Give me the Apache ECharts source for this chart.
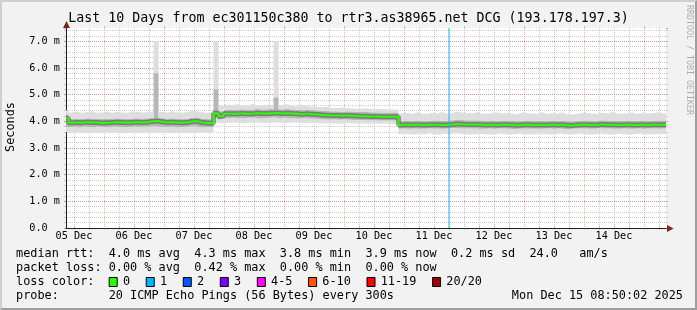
<!DOCTYPE html>
<html><head><meta charset="utf-8">
<script src="https://cdn.jsdelivr.net/npm/echarts@6/dist/echarts.min.js"></script>
<style>
html,body{margin:0;padding:0;background:#f2f2f2;}
#wrap{position:relative;width:697px;height:310px;overflow:hidden;}
#chart{width:697px;height:310px;}
#frame{position:absolute;left:0;top:0;width:697px;height:310px;box-sizing:border-box;border-top:2px solid #cfcfcf;border-left:2px solid #cfcfcf;border-right:2px solid #9e9e9e;border-bottom:2px solid #9e9e9e;pointer-events:none;}
</style></head>
<body><div id="wrap"><div id="chart"></div><div id="frame"></div></div>
<script>
// ---------------- data ----------------
const titleText = 'Last 10 Days from ec301150c380 to rtr3.as38965.net DCG (193.178.197.3)';
const yAxisTitle = 'Seconds';
const startUTC = Date.UTC(2025, 11, 5, 8, 50, 0);   // Dec 5 08:50
const spanHours = 240;
const stepHours = 2;
const dayLabels = ['05 Dec','06 Dec','07 Dec','08 Dec','09 Dec','10 Dec','11 Dec','12 Dec','13 Dec','14 Dec'];
const yMax = 7.5;

// median rtt (ms) every 2 h
const median = [
 4.12,3.95,3.96,3.95,3.97,3.96,3.96,3.94,3.95,3.96,
 3.97,3.96,3.95,3.96,3.97,3.96,3.97,3.99,4.01,3.98,
 3.96,3.97,3.96,3.95,3.96,3.99,4.00,3.96,3.94,3.93,
 4.30,4.19,4.28,4.28,4.28,4.29,4.28,4.28,4.30,4.29,
 4.29,4.30,4.31,4.29,4.30,4.29,4.28,4.27,4.28,4.27,
 4.26,4.24,4.23,4.22,4.22,4.21,4.22,4.21,4.20,4.19,
 4.19,4.18,4.18,4.17,4.17,4.17,4.17,
 3.86,3.87,3.86,3.87,3.86,3.86,3.87,3.87,3.86,3.86,
 3.88,3.90,3.89,3.88,3.88,3.88,3.87,3.86,3.87,3.86,
 3.87,3.87,3.86,3.85,3.86,3.87,3.86,3.86,3.86,3.86,
 3.87,3.86,3.87,3.85,3.84,3.86,3.87,3.87,3.86,3.86,
 3.88,3.87,3.87,3.86,3.86,3.87,3.86,3.86,3.87,3.86,
 3.87,3.87,3.87,3.87
];
// smoke: lowest ping
const smokeMin = [
 3.60,3.56,3.55,3.57,3.56,3.55,3.57,3.56,3.55,3.56,
 3.57,3.56,3.55,3.56,3.55,3.57,3.56,3.55,3.56,3.57,
 3.56,3.55,3.56,3.57,3.55,3.56,3.55,3.56,3.57,3.58,
 3.96,3.95,3.94,3.95,3.96,3.95,3.94,3.95,3.96,3.95,
 3.94,3.95,3.96,3.95,3.94,3.95,3.96,3.95,3.94,3.95,
 3.94,3.93,3.92,3.93,3.92,3.91,3.92,3.93,3.92,3.91,
 3.92,3.91,3.92,3.91,3.92,3.91,3.90,
 3.52,3.53,3.52,3.51,3.53,3.52,3.54,3.52,3.51,3.53,
 3.52,3.54,3.53,3.52,3.51,3.52,3.53,3.52,3.51,3.52,
 3.53,3.52,3.51,3.52,3.53,3.52,3.51,3.52,3.53,3.52,
 3.51,3.52,3.53,3.52,3.51,3.52,3.53,3.52,3.51,3.52,
 3.53,3.52,3.51,3.52,3.53,3.52,3.51,3.52,3.53,3.52,
 3.51,3.52,3.53,3.52
];
// smoke: lower edge of the dense part
const smokeLo = [
 3.82,3.79,3.80,3.78,3.80,3.79,3.78,3.80,3.79,3.78,
 3.80,3.79,3.78,3.79,3.80,3.79,3.80,3.81,3.82,3.80,
 3.79,3.80,3.79,3.78,3.79,3.81,3.82,3.79,3.78,3.78,
 4.13,4.08,4.12,4.12,4.13,4.12,4.12,4.13,4.13,4.12,
 4.12,4.13,4.14,4.12,4.13,4.12,4.12,4.11,4.12,4.11,
 4.10,4.09,4.08,4.07,4.07,4.06,4.07,4.06,4.05,4.05,
 4.05,4.04,4.04,4.03,4.03,4.03,4.03,
 3.72,3.73,3.72,3.73,3.72,3.72,3.73,3.73,3.72,3.72,
 3.74,3.75,3.74,3.73,3.73,3.73,3.72,3.72,3.73,3.72,
 3.73,3.73,3.72,3.71,3.72,3.73,3.72,3.72,3.72,3.72,
 3.73,3.72,3.73,3.71,3.70,3.72,3.73,3.73,3.72,3.72,
 3.74,3.73,3.73,3.72,3.72,3.73,3.72,3.72,3.73,3.72,
 3.73,3.73,3.73,3.73
];
// smoke: upper edge of the dense part
const smokeHi = [
 4.25,4.10,4.11,4.10,4.12,4.11,4.11,4.09,4.10,4.11,
 4.12,4.11,4.10,4.11,4.12,4.11,4.12,4.14,5.80,4.13,
 4.11,4.12,4.11,4.10,4.11,4.14,4.15,4.11,4.09,4.08,
 5.20,4.38,4.44,4.44,4.44,4.45,4.44,4.44,4.46,4.45,
 4.45,4.46,4.90,4.45,4.46,4.45,4.44,4.43,4.44,4.43,
 4.42,4.40,4.39,4.38,4.38,4.37,4.38,4.37,4.36,4.35,
 4.35,4.34,4.34,4.33,4.33,4.33,4.33,
 4.02,4.03,4.02,4.03,4.02,4.02,4.03,4.03,4.02,4.02,
 4.04,4.06,4.05,4.04,4.04,4.04,4.03,4.02,4.03,4.02,
 4.03,4.03,4.02,4.01,4.02,4.03,4.02,4.02,4.02,4.02,
 4.03,4.02,4.03,4.01,4.00,4.02,4.03,4.03,4.02,4.02,
 4.04,4.03,4.03,4.02,4.02,4.03,4.02,4.02,4.03,4.02,
 4.03,4.03,4.03,4.03
];
// smoke: highest ping
const smokeMax = [
 4.42,4.33,4.36,4.32,4.35,4.38,4.32,4.33,4.36,4.32,
 4.35,4.33,4.32,4.37,4.35,4.33,4.34,4.36,7.00,4.35,
 4.33,4.38,4.33,4.32,4.34,4.40,4.38,4.34,4.32,4.31,
 7.00,4.58,4.62,4.61,4.63,4.60,4.61,4.64,4.60,4.61,
 4.62,4.60,7.00,4.61,4.63,4.58,4.57,4.59,4.57,4.56,
 4.55,4.53,4.55,4.50,4.50,4.52,4.50,4.48,4.47,4.47,
 4.48,4.46,4.46,4.45,4.45,4.44,4.43,
 4.30,4.31,4.28,4.33,4.29,4.28,4.31,4.30,4.34,4.29,
 4.32,4.36,4.33,4.31,4.30,4.33,4.29,4.28,4.30,4.33,
 4.30,4.31,4.29,4.27,4.32,4.30,4.29,4.28,4.33,4.28,
 4.30,4.29,4.33,4.27,4.26,4.28,4.32,4.31,4.29,4.28,
 4.32,4.30,4.34,4.29,4.28,4.30,4.32,4.28,4.30,4.29,
 4.30,4.33,4.30,4.30
];
// loss events: [hours after start, lost pings]
const lossEvents = [[152.9, 1]];

const lossLegend = [['0','#26ff00'],['1','#00b8ff'],['2','#0059ff'],['3','#7e00ff'],['4-5','#ff00ff'],['6-10','#ff5500'],['11-19','#ff0000'],['20/20','#a10000']];
const legendLine1 = 'median rtt:  4.0 ms avg  4.3 ms max  3.8 ms min  3.9 ms now  0.2 ms sd  24.0   am/s';
const legendLine2 = 'packet loss: 0.00 % avg  0.42 % max  0.00 % min  0.00 % now';
const legendLine3 = 'loss color:';
const legendLine4 = 'probe:       20 ICMP Echo Pings (56 Bytes) every 300s';
const dateText = 'Mon Dec 15 08:50:02 2025';
const watermark = 'RRDTOOL / TOBI OETIKER';

// ---------------- layout / style ----------------
const G = {left:66, top:28, width:600, height:200};
const MONO = '"DejaVu Sans Mono", monospace';
const C_GRID = 'rgba(143,143,143,0.45)';
const C_MGRID = 'rgba(222,79,79,0.45)';
const C_AXIS = '#1f1f1f';
const C_ARROW = '#801f1f';
const SMOKE_LIGHT = '#dedede';
const SMOKE_MID = '#b6b6b6';
const CW = 7.13; // legend char advance
const LEGEND_FS = 11.85;
const AXIS_FS = 10.2;

// 10-minute slots for the grid/label axes
const slotCount = spanHours * 6 + 1;
const slotNames = [], slotH = [], slotM = [], slotD = [];
for (let i = 0; i < slotCount; i++) {
  const d = new Date(startUTC + i * 600000);
  slotNames.push(String(i)); slotH.push(d.getUTCHours()); slotM.push(d.getUTCMinutes()); slotD.push(d.getUTCDate());
}
const isMid = i => slotH[i] === 0 && slotM[i] === 0;
const isSix = i => slotM[i] === 0 && slotH[i] % 6 === 0 && slotH[i] !== 0;
const isNoon = i => slotH[i] === 12 && slotM[i] === 0;

const tOf = i => startUTC + i * stepHours * 3600000;
const pairs = arr => arr.map((v, i) => [tOf(i), v]);
const diff = (a, b) => a.map((v, i) => [tOf(i), +(v - b[i]).toFixed(3)]);

function catAxis(pos, showMain, minor) {
  const fn = minor ? isSix : isMid;
  const col = minor ? C_GRID : C_MGRID;
  return {
    type:'category', data:slotNames, boundaryGap:false, position:pos, z: minor ? 0 : 1,
    min:0, max:slotCount-1,
    axisLine:{show: showMain, lineStyle:{color:C_AXIS, width:1}},
    axisTick:{show:true, interval:(idx)=>fn(idx), length:2, inside:false, lineStyle:{color:col}},
    axisLabel: showMain ? {show:true, interval:(idx)=>isNoon(idx), margin:3,
        formatter:(v)=>dayLabels[slotD[parseInt(v,10)] - 5],
        fontFamily:MONO, fontSize:AXIS_FS, color:'#000'}
      : {show:true, interval:(idx)=>fn(idx), formatter:()=>'', fontSize:1},
    splitLine:{show: pos === 'bottom', interval:(idx)=>fn(idx), lineStyle:{color:col, width:1, type:[1,1]}}
  };
}
function valAxis(pos, minor, main) {
  const col = minor ? C_GRID : C_MGRID;
  return {
    type:'value', min:0, max:yMax, interval: minor ? 0.2 : 1, position:pos, z: minor ? 0 : 1,
    axisLine:{show: !!main, lineStyle:{color:C_AXIS, width:1}},
    axisTick:{show:true, length:2, inside:false, lineStyle:{color:col}},
    axisLabel: main ? {show:true, margin:6, showMaxLabel:false, showMinLabel:true,
        formatter:(v)=> v === 0 ? '0.0  ' : (v.toFixed(1) + ' m'),
        fontFamily:MONO, fontSize:AXIS_FS, color:'#000'} : {show:false},
    splitLine:{show: pos === 'left', showMinLine:false, showMaxLine:false, lineStyle:{color:col, width:1, type:[1,1]}}
  };
}

// legend graphics
const graphics = [];
const txt = (x, y, text, fs, align, extra) => Object.assign({type:'text', x, y, silent:true,
  style:{text, fontFamily:MONO, fontSize:fs, fill:'#000', align:align||'left', verticalAlign:'middle'}}, extra||{});
graphics.push(txt(348.5, 19, titleText, 13.3, 'center'));
graphics.push(txt(11, G.top + G.height/2 - 1, yAxisTitle, LEGEND_FS, 'center', {rotation:Math.PI/2}));
graphics.push(txt(16, 254.3, legendLine1, LEGEND_FS));
graphics.push(txt(16, 268.3, legendLine2, LEGEND_FS));
graphics.push(txt(16, 282.3, legendLine3, LEGEND_FS));
graphics.push(txt(16, 296.2, legendLine4, LEGEND_FS));
graphics.push(txt(683, 296.2, dateText, LEGEND_FS, 'right'));
let bx = 16 + 13 * CW;
lossLegend.forEach(([lab, col]) => {
  graphics.push({type:'rect', silent:true, shape:{x:bx + 0.5, y:277.5, width:8, height:9}, style:{fill:col, stroke:'#000', lineWidth:1}});
  graphics.push(txt(bx + 14.2, 282.3, lab, LEGEND_FS));
  bx += 29.9 + lab.length * CW;
});
graphics.push({type:'text', x:689, y:5, rotation:-Math.PI/2, silent:true,
  style:{text:watermark, fontFamily:MONO, fontSize:8.3, fill:'rgba(0,0,0,0.3)', align:'left', verticalAlign:'middle'}});
// axis arrows
graphics.push({type:'polygon', silent:true, shape:{points:[[G.left-3, G.top],[G.left+4, G.top],[G.left+0.5, G.top-7]]}, style:{fill:C_ARROW}});
const axY = G.top + G.height + 0.5;
graphics.push({type:'line', silent:true, shape:{x1:G.left+G.width, y1:axY, x2:G.left+G.width+2, y2:axY}, style:{stroke:C_AXIS, lineWidth:1}});
graphics.push({type:'polygon', silent:true, shape:{points:[[G.left+G.width+1, axY-3.5],[G.left+G.width+1, axY+3.5],[G.left+G.width+7.5, axY]]}, style:{fill:C_ARROW}});

const lineBase = {type:'line', xAxisIndex:0, yAxisIndex:0, step:'middle', symbol:'none', showSymbol:false, silent:true, animation:false};
const option = {
  animation:false,
  backgroundColor:'#f2f2f2',
  grid:{left:G.left, top:G.top, width:G.width, height:G.height, show:true, backgroundColor:'#ffffff', borderWidth:0,
        outerBoundsMode:'none', containLabel:false},
  xAxis:[
    {type:'time', min:startUTC, max:startUTC + spanHours*3600000, show:false},
    catAxis('bottom', false, true),
    catAxis('bottom', true, false),
    catAxis('top', false, true),
    catAxis('top', false, false)
  ],
  yAxis:[
    valAxis('left', false, true),
    valAxis('left', true, false),
    valAxis('right', false, false),
    valAxis('right', true, false)
  ],
  series:[
    Object.assign({}, lineBase, {name:'base', stack:'smoke', data:pairs(smokeMin), lineStyle:{width:0, opacity:0}}),
    Object.assign({}, lineBase, {name:'lowSmoke', stack:'smoke', data:diff(smokeLo, smokeMin), lineStyle:{width:0, opacity:0}, areaStyle:{color:SMOKE_LIGHT, opacity:1}}),
    Object.assign({}, lineBase, {name:'coreSmoke', stack:'smoke', data:diff(smokeHi, smokeLo), lineStyle:{width:0, opacity:0}, areaStyle:{color:SMOKE_MID, opacity:1}}),
    Object.assign({}, lineBase, {name:'highSmoke', stack:'smoke', data:diff(smokeMax, smokeHi), lineStyle:{width:0, opacity:0}, areaStyle:{color:SMOKE_LIGHT, opacity:1}}),
    Object.assign({}, lineBase, {name:'medianShade', data:pairs(median), lineStyle:{width:5, color:'rgba(50,50,50,0.45)'}}),
    Object.assign({}, lineBase, {name:'median', data:pairs(median), lineStyle:{width:2, color:'#26ff00'},
      markLine:{silent:true, symbol:['none','none'], label:{show:false}, animation:false,
        lineStyle:{color:'rgba(0,184,255,0.45)', width:2, type:'solid'},
        data: lossEvents.map(e => ({xAxis: startUTC + e[0]*3600000}))}})
  ],
  graphic: graphics
};
const chart = echarts.init(document.getElementById('chart'), null, {renderer:'canvas'});
chart.setOption(option);
</script>
</body></html>
